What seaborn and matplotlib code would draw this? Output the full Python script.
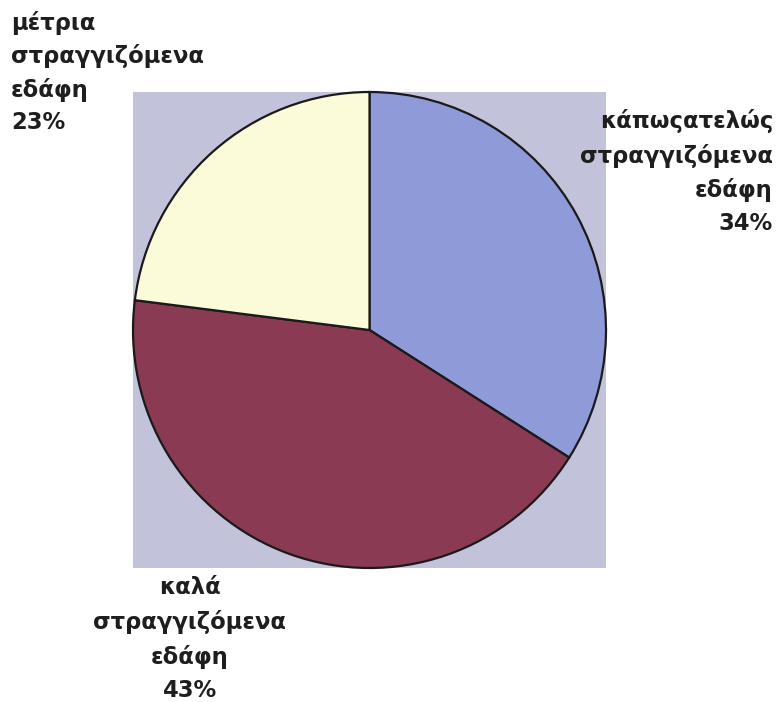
import matplotlib
matplotlib.use("Agg")
import matplotlib.pyplot as plt
import seaborn as sns

sns.set_style("white")
plt.rcParams['font.family'] = ['DejaVu Sans']

categories = ["κάπωςατελώς\nστραγγιζόμενα\nεδάφη", "καλά\nστραγγιζόμενα\nεδάφη", "μέτρια\nστραγγιζόμενα\nεδάφη"]
values = [34, 43, 23]
colors = ["#8f9ad9", "#8a3a52", "#fcfbd9"]

W, H = 777, 702
fig = plt.figure(figsize=(W / 100, H / 100), dpi=100)
fig.patch.set_facecolor("white")
ax = fig.add_axes([133 / W, 1 - 568 / H, 473 / W, 476 / H])
ax.pie(values, colors=colors, startangle=90, counterclock=False, radius=1,
       wedgeprops=dict(edgecolor="#1a1a1a", linewidth=1.6))
ax.set_aspect("auto")
ax.set_xlim(-1.0, 1.0)
ax.set_ylim(-1.0, 1.0)
ax.set_facecolor("#c2c3da")
ax.set_frame_on(True)
for s in ax.spines.values():
    s.set_visible(False)
ax.patch.set_visible(True)

labels = [f"{c}\n{v}%" for c, v in zip(categories, values)]
tk = dict(fontsize=16.3, fontweight="bold", color="#1e1e1e")
# right label (34%)
fig.text(773 / W, 1 - 109 / H, labels[0], ha="right", va="top", multialignment="right",
         linespacing=1.56, **tk)
# bottom label (43%)
fig.text(190 / W, 1 - 576 / H, labels[1], ha="center", va="top", multialignment="center",
         linespacing=1.57, **tk)
# top-left label (23%)
fig.text(11 / W, 1 - 11 / H, labels[2], ha="left", va="top", multialignment="left",
         linespacing=1.5, **tk)

fig.savefig("out.png", dpi=100, facecolor="white")
